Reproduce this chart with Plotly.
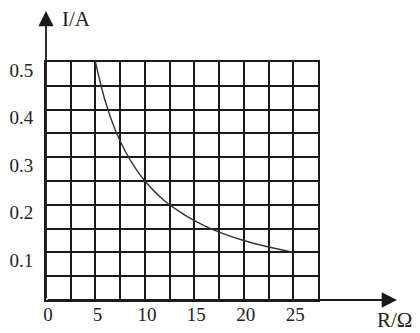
import plotly.graph_objects as go

# data
R_values = [5, 6, 7, 8, 9, 10, 12, 14, 15, 17, 20, 22, 25]
I_values = [0.5, 0.417, 0.357, 0.313, 0.278, 0.25, 0.208, 0.179, 0.167, 0.147, 0.125, 0.114, 0.1]

x_major = [0, 5, 10, 15, 20, 25]
x_major_text = ["0", "5", "10", "15", "20", "25"]
x_minor = [2.5, 7.5, 12.5, 17.5, 22.5, 27.5]
y_major = [0.1, 0.2, 0.3, 0.4, 0.5]
y_major_text = ["0.1", "0.2", "0.3", "0.4", "0.5"]
y_minor = [0.05, 0.15, 0.25, 0.35, 0.45]

FONT = "Liberation Serif"
GRID = "#1a1a1a"

# the page body has an 8px margin, so the figure starts at screen (8, 8)
OFF = 8
W, H = 420 - OFF, 333 - OFF
L, T = 46 - OFF, 62 - OFF
PR, PB = 318 - OFF, 300 - OFF   # plot right / bottom in figure pixels
R, B = W - PR, H - PB
PW, PH = PR - L, PB - T


def px2paper(sx, sy):
    """screen pixel (reference coords) -> paper coords"""
    fx, fy = sx - OFF, sy - OFF
    return (fx - L) / PW, (PB - fy) / PH


fig = go.Figure()
fig.add_trace(go.Scatter(
    x=R_values, y=I_values, mode="lines",
    line=dict(color="#333333", width=1.4, shape="spline"),
    hoverinfo="skip", showlegend=False,
))

fig.update_layout(
    template="none",
    width=W, height=H,
    margin=dict(l=L, r=R, t=T, b=B, autoexpand=False),
    paper_bgcolor="white", plot_bgcolor="white",
    font=dict(family=FONT, size=19, color="#222222"),
    xaxis=dict(
        range=[0, 27.5], tickmode="array", tickvals=x_major, ticktext=x_major_text,
        showgrid=True, gridcolor=GRID, gridwidth=2,
        minor=dict(tickmode="array", tickvals=x_minor, showgrid=True, gridcolor=GRID, gridwidth=2),
        showline=True, linecolor=GRID, linewidth=2, mirror=True, automargin=False,
        zeroline=False, ticks="", ticklabelstandoff=-4, ticklabelshift=2, fixedrange=True,
        tickfont=dict(family=FONT, size=19),
    ),
    yaxis=dict(
        range=[0, 0.5], tickmode="array", tickvals=y_major, ticktext=y_major_text,
        showgrid=True, gridcolor=GRID, gridwidth=2,
        minor=dict(tickmode="array", tickvals=y_minor, showgrid=True, gridcolor=GRID, gridwidth=2),
        showline=True, linecolor=GRID, linewidth=2, mirror=True, automargin=False,
        zeroline=False, ticks="", ticklabelstandoff=7, ticklabelshift=8, fixedrange=True,
        tickfont=dict(family=FONT, size=19),
    ),
)

# axis arrows extending beyond the grid
xt, _ = px2paper(397, 300)
fig.add_annotation(x=xt, y=0, xref="paper", yref="paper", ax=-(397 - 46), ay=0,
                   text="", showarrow=True,
                   arrowhead=2, arrowsize=1.7, arrowwidth=1.8, arrowcolor=GRID)
_, yt = px2paper(46, 11)
fig.add_annotation(x=0, y=yt, xref="paper", yref="paper", ax=0, ay=(300 - 11),
                   text="", showarrow=True,
                   arrowhead=2, arrowsize=1.7, arrowwidth=1.8, arrowcolor=GRID)

ax1, ay1 = px2paper(76, 19)
fig.add_annotation(x=ax1, y=ay1, xref="paper", yref="paper", text="I/A", showarrow=False,
                   xanchor="center", yanchor="middle",
                   font=dict(family=FONT, size=21, color="#222222"))
ax2, ay2 = px2paper(394, 320)
fig.add_annotation(x=ax2, y=ay2, xref="paper", yref="paper", text="R/Ω", showarrow=False,
                   xanchor="center", yanchor="middle",
                   font=dict(family=FONT, size=21, color="#222222"))

fig.write_html("out.html")
